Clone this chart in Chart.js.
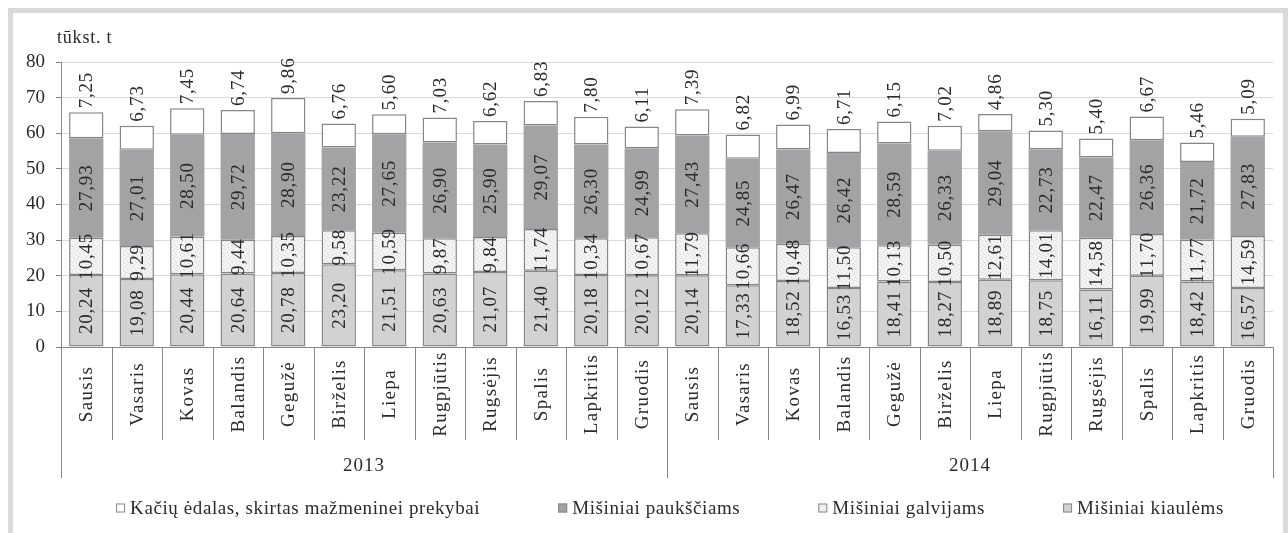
<!DOCTYPE html>
<html lang="lt">
<head>
<meta charset="utf-8">
<title>Pašarų gamyba</title>
<script src="https://cdn.jsdelivr.net/npm/chart.js@4.4.1/dist/chart.umd.min.js"></script>
<style>
    html, body { margin: 0; padding: 0; background: #fff; }
    #wrap { position: relative; width: 1288px; height: 533px; }
</style>
</head>
<body>
<div id="wrap"><canvas id="chart" width="1288" height="533"></canvas></div>
<script>
// ==========================================
// DUOMENYS
// ==========================================
const years = ['2013', '2014'];
const months = ['Sausis', 'Vasaris', 'Kovas', 'Balandis', 'Gegužė', 'Birželis', 'Liepa', 'Rugpjūtis', 'Rugsėjis', 'Spalis', 'Lapkritis', 'Gruodis'];
const yTicks = [0, 10, 20, 30, 40, 50, 60, 70, 80];
const unitLabel = 'tūkst. t';

const kiaulems = [20.24, 19.08, 20.44, 20.64, 20.78, 23.20, 21.51, 20.63, 21.07, 21.40, 20.18, 20.12,
                  20.14, 17.33, 18.52, 16.53, 18.41, 18.27, 18.89, 18.75, 16.11, 19.99, 18.42, 16.57];
const galvijams = [10.45, 9.29, 10.61, 9.44, 10.35, 9.58, 10.59, 9.87, 9.84, 11.74, 10.34, 10.67,
                   11.79, 10.66, 10.48, 11.50, 10.13, 10.50, 12.61, 14.01, 14.58, 11.70, 11.77, 14.59];
const pauksciams = [27.93, 27.01, 28.50, 29.72, 28.90, 23.22, 27.65, 26.90, 25.90, 29.07, 26.30, 24.99,
                    27.43, 24.85, 26.47, 26.42, 28.59, 26.33, 29.04, 22.73, 22.47, 26.36, 21.72, 27.83];
const kaciu = [7.25, 6.73, 7.45, 6.74, 9.86, 6.76, 5.60, 7.03, 6.62, 6.83, 7.80, 6.11,
               7.39, 6.82, 6.99, 6.71, 6.15, 7.02, 4.86, 5.30, 5.40, 6.67, 5.46, 5.09];

const seriesNames = ['Mišiniai kiaulėms', 'Mišiniai galvijams', 'Mišiniai paukščiams', 'Kačių ėdalas, skirtas mažmeninei prekybai'];

// ==========================================
// STILIUS
// ==========================================
const SERIF = '"Liberation Serif", "DejaVu Serif", serif';
const TEXT = '#2b2b2b';
const EDGE = '#868686';

// baltas raštas su pilkais taškeliais (galvijams)
function makeSpeckle() {
    const c = document.createElement('canvas');
    c.width = 8; c.height = 8;
    const g = c.getContext('2d');
    g.fillStyle = '#f3f3f3';
    g.fillRect(0, 0, 8, 8);
    g.fillStyle = '#d4d4d4';
    [[1, 1], [5, 2], [3, 4], [7, 5], [0, 6], [4, 7], [6, 0]].forEach(p => g.fillRect(p[0], p[1], 1, 1));
    return g.createPattern(c, 'repeat');
}
const speckle = makeSpeckle();

const labels = years.flatMap(() => months);
const fmt = v => v.toFixed(2).replace('.', ',');

// ==========================================
// PLUGINAI
// ==========================================
const framePlugin = {
    id: 'frame',
    beforeDraw(chart) {
        const ctx = chart.ctx;
        ctx.save();
        ctx.fillStyle = '#fff';
        ctx.fillRect(0, 0, chart.width, chart.height);
        ctx.fillStyle = '#d9d9d9';
        ctx.fillRect(8, 8, 1280, 5);
        ctx.fillRect(8, 8, 5, chart.height);
        ctx.fillRect(1283, 8, 5, chart.height);
        ctx.restore();
    }
};

const barLabelsPlugin = {
    id: 'barLabels',
    afterDatasetsDraw(chart) {
        const ctx = chart.ctx;
        ctx.save();
        ctx.font = '19px ' + SERIF;
        ctx.letterSpacing = '0.8px';
        ctx.fillStyle = TEXT;
        ctx.textBaseline = 'middle';
        const last = chart.data.datasets.length - 1;
        chart.data.datasets.forEach((ds, di) => {
            const meta = chart.getDatasetMeta(di);
            meta.data.forEach((bar, i) => {
                const txt = fmt(ds.data[i]);
                ctx.save();
                if (di === last) {
                    ctx.translate(bar.x + 1, bar.y - 4);
                    ctx.rotate(-Math.PI / 2);
                    ctx.textAlign = 'left';
                    ctx.fillText(txt, 0, 0);
                } else {
                    ctx.translate(bar.x + 1, (bar.y + bar.base) / 2);
                    ctx.rotate(-Math.PI / 2);
                    ctx.textAlign = 'center';
                    ctx.fillText(txt, 0, 0);
                }
                ctx.restore();
            });
        });
        ctx.restore();
    }
};

const axisPlugin = {
    id: 'groupAxis',
    afterDraw(chart) {
        const ctx = chart.ctx;
        const x = chart.scales.x;
        const area = chart.chartArea;
        const step = (area.right - area.left) / labels.length;
        const bottom = area.bottom;
        ctx.save();
        ctx.strokeStyle = EDGE;
        ctx.lineWidth = 1;

        // skirtukai tarp mėnesių ir metų
        for (let i = 0; i <= labels.length; i++) {
            const px = Math.round(area.left + i * step) + 0.5;
            const isYear = i % months.length === 0;
            ctx.beginPath();
            ctx.moveTo(px, bottom);
            ctx.lineTo(px, bottom + (isYear ? 131 : 93));
            ctx.stroke();
        }

        // mėnesių pavadinimai
        ctx.fillStyle = TEXT;
        ctx.font = '19px ' + SERIF;
        ctx.letterSpacing = '1.3px';
        ctx.textAlign = 'center';
        ctx.textBaseline = 'middle';
        labels.forEach((m, i) => {
            ctx.save();
            ctx.translate(x.getPixelForValue(i) + 1, bottom + 47);
            ctx.rotate(-Math.PI / 2);
            ctx.fillText(m, 0, 0);
            ctx.restore();
        });

        // metai
        ctx.letterSpacing = '1px';
        years.forEach((y, k) => {
            const cx = area.left + (k + 0.5) * months.length * step;
            ctx.fillText(y, cx, bottom + 119);
        });

        // vienetai
        ctx.textAlign = 'left';
        ctx.font = '18px ' + SERIF;
        ctx.letterSpacing = '0.8px';
        ctx.fillText(unitLabel, 57, 38);

        // legenda
        const items = chart.data.datasets.slice().reverse();
        ctx.font = '19px ' + SERIF;
        ctx.letterSpacing = '0.6px';
        const box = 9, gapBox = 5, gap = 78;
        const widths = items.map(d => box + gapBox + ctx.measureText(d.label).width);
        const total = widths.reduce((a, b) => a + b, 0) + gap * (items.length - 1);
        let lx = 670 - total / 2;
        const ly = 508;
        items.forEach((d, k) => {
            ctx.fillStyle = d.backgroundColor;
            ctx.fillRect(lx, ly - box / 2, box, box);
            ctx.strokeStyle = EDGE;
            ctx.strokeRect(lx + 0.5, ly - box / 2 + 0.5, box - 1, box - 1);
            ctx.fillStyle = TEXT;
            ctx.fillText(d.label, lx + box + gapBox, ly + 1);
            lx += widths[k] + gap;
        });
        ctx.restore();
    }
};

// ==========================================
// GRAFIKAS
// ==========================================
const barOpts = { barPercentage: 0.68, categoryPercentage: 1, borderColor: EDGE, borderSkipped: false };

new Chart(document.getElementById('chart'), {
    type: 'bar',
    data: {
        labels: labels,
        datasets: [
            { label: seriesNames[0], data: kiaulems, backgroundColor: '#d2d2d2', borderWidth: 1.5, ...barOpts },
            { label: seriesNames[1], data: galvijams, backgroundColor: speckle, borderWidth: 1.5, ...barOpts },
            { label: seriesNames[2], data: pauksciams, backgroundColor: '#a3a3a5', borderWidth: 0, ...barOpts },
            { label: seriesNames[3], data: kaciu, backgroundColor: '#ffffff', borderWidth: 1.5, ...barOpts }
        ]
    },
    options: {
        responsive: false,
        animation: false,
        layout: { padding: { top: 62, right: 15, left: 0, bottom: 0 } },
        plugins: { legend: { display: false }, tooltip: { enabled: false } },
        scales: {
            x: {
                stacked: true,
                ticks: { display: false },
                grid: { display: false },
                border: { display: true, color: EDGE, width: 1 },
                afterFit(scale) { scale.height = 186; }
            },
            y: {
                stacked: true,
                min: yTicks[0],
                max: yTicks[yTicks.length - 1],
                ticks: { stepSize: 10, padding: 11, color: TEXT, font: { family: SERIF, size: 19 } },
                grid: { color: '#d9d9d9', tickColor: EDGE, tickLength: 5 },
                border: { color: EDGE, width: 1 },
                afterFit(scale) { scale.width = 61; }
            }
        }
    },
    plugins: [framePlugin, barLabelsPlugin, axisPlugin]
});
</script>
</body>
</html>
